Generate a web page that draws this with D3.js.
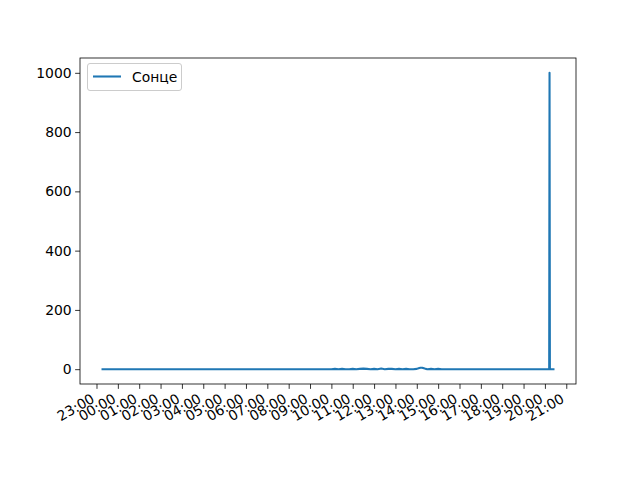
<!DOCTYPE html>
<html><head><meta charset="utf-8">
<script src="https://cdn.jsdelivr.net/npm/d3@7"></script>
<style>body{margin:0;background:#fff}svg{display:block}text{font-family:"DejaVu Sans",sans-serif}</style>
</head><body><svg id="c" width="640" height="480"></svg>
<script>
// Data (times as "day hh:mm", day 0 = evening before)
const times = [
 "0 23:17","1 10:00","1 10:10","1 10:20","1 10:30","1 10:40","1 10:50","1 11:00","1 11:10","1 11:20","1 11:30",
 "1 11:40","1 11:50","1 12:00","1 12:10","1 12:20","1 12:30","1 12:40","1 12:50","1 13:00","1 13:10","1 13:20",
 "1 13:30","1 13:40","1 13:50","1 14:00","1 14:05","1 14:10","1 14:15","1 14:20","1 14:25","1 14:30","1 14:40",
 "1 14:50","1 15:00","1 15:10","1 20:12","1 20:13","1 20:14","1 20:24"
];
const values = [
 0,0,1,0,1,0,0,1,0,1,2,
 1,0,1,0,2,0,1,1,0,1,0,
 1,0,0,1,3,5,5,3,1,0,1,
 0,1,0,0,1000,0,0
];
const seriesName = "Сонце";
const yTicks = [0,200,400,600,800,1000];
const tickHours = ["0 23:00","1 00:00","1 01:00","1 02:00","1 03:00","1 04:00","1 05:00","1 06:00","1 07:00","1 08:00",
 "1 09:00","1 10:00","1 11:00","1 12:00","1 13:00","1 14:00","1 15:00","1 16:00","1 17:00","1 18:00","1 19:00","1 20:00","1 21:00"];

const parse = s => { const [d,hm]=s.split(" "); const [h,m]=hm.split(":").map(Number); return new Date(2023,5,20+Number(d),h,m); };
const data = times.map((t,i)=>({t:parse(t), v:values[i]}));

const L=80,R=576,T=58,B=384;
const svg=d3.select("#c");
const tExt=d3.extent(data,d=>d.t);
const span=tExt[1]-tExt[0];
const x=d3.scaleTime().domain([new Date(+tExt[0]-span*0.05),new Date(+tExt[1]+span*0.05)]).range([L,R]);
const vMax=d3.max(values), vMin=d3.min(values), vs=vMax-vMin;
const y=d3.scaleLinear().domain([vMin-vs*0.05,vMax+vs*0.05]).range([B,T]);

const line=d3.line().x(d=>x(d.t)).y(d=>y(d.v));
svg.append("path").datum(data).attr("d",line).attr("fill","none").attr("stroke","#1f77b4")
  .attr("stroke-width",2.08).attr("stroke-linejoin","round").attr("stroke-linecap","square");

// frame
svg.append("rect").attr("x",L).attr("y",T).attr("width",R-L).attr("height",B-T)
  .attr("fill","none").attr("stroke","#000").attr("stroke-width",0.8);

// x axis
const xa=svg.append("g").attr("transform",`translate(0,${B})`)
  .call(d3.axisBottom(x).tickValues(tickHours.map(parse)).tickFormat(d3.timeFormat("%H:%M")).tickSize(4.86).tickPadding(3.5));
xa.select(".domain").remove();
xa.selectAll("line").attr("stroke","#000").attr("stroke-width",0.8);
xa.selectAll("text").attr("font-size","13.9px").attr("fill","#000")
  .attr("text-anchor","end").attr("dy",null).attr("y",null)
  .attr("transform","translate(-1.5,17.5) rotate(-30)");

// y axis
const ya=svg.append("g").attr("transform",`translate(${L},0)`)
  .call(d3.axisLeft(y).tickValues(yTicks).tickFormat(d3.format("d")).tickSize(4.86).tickPadding(3.5));
ya.select(".domain").remove();
ya.selectAll("line").attr("stroke","#000").attr("stroke-width",0.8);
ya.selectAll("text").attr("font-size","13.9px").attr("fill","#000");

// legend
const lg=svg.append("g");
lg.append("rect").attr("x",87.5).attr("y",63.5).attr("width",94).attr("height",27).attr("rx",2.5)
  .attr("fill","#fff").attr("fill-opacity",0.8).attr("stroke","#ccc").attr("stroke-width",1);
lg.append("line").attr("x1",93).attr("x2",121).attr("y1",76.5).attr("y2",76.5).attr("stroke","#1f77b4").attr("stroke-width",2.08);
lg.append("text").attr("x",132).attr("y",81.5).attr("font-size","13.9px").attr("fill","#000").text(seriesName);
</script></body></html>
